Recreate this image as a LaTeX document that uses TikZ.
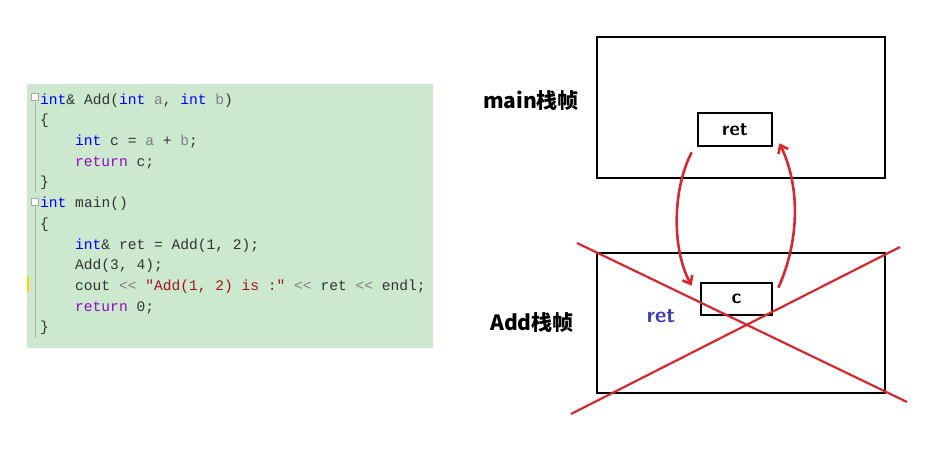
\documentclass[tikz,border=0pt]{standalone}
\usepackage{fontspec}
\usetikzlibrary{arrows.meta}
\newfontfamily\codefont{Liberation Mono}
\newfontfamily\cjk{Noto Sans CJK SC}
\definecolor{codebg}{RGB}{204,232,207}
\definecolor{kw}{RGB}{0,0,255}
\definecolor{rt}{RGB}{143,8,196}
\definecolor{arg}{RGB}{128,128,128}
\definecolor{str}{RGB}{163,21,21}
\definecolor{crossred}{RGB}{215,40,50}
\definecolor{retblue}{RGB}{60,60,190}
\newcommand{\kw}[1]{\textcolor{kw}{#1}}
\newcommand{\rt}[1]{\textcolor{rt}{#1}}
\newcommand{\ag}[1]{\textcolor{arg}{#1}}
\begin{document}
\begin{tikzpicture}[x = 1pt, y = -1pt,
		codeline/.style = {anchor = base west, inner sep = 0pt, font = \codefont\fontsize{14.6}{14.6}\selectfont, text = black!80},
		frame/.style = {draw, line width = 2.6pt},
		label/.style = {font = \cjk\bfseries\fontsize{21}{21}\selectfont},
		cross/.style = {crossred, line width = 2.2pt},
		link/.style = {crossred, line width = 2.6pt, -{Straight Barb[length = 7pt, width = 11pt]}}]
	\useasboundingbox (0, 0) rectangle (949, 448);
	% code panel
	\fill[codebg] (27, 84) rectangle (433, 348);
	\draw[gray!60] (35, 102) -- (35, 192) (35, 206) -- (35, 338);
	\draw[gray!70, fill = white] (31, 93) rectangle (38, 100);
	\draw[gray!70, fill = white] (31, 198) rectangle (38, 205);
	\fill[yellow!70!orange] (27, 276) rectangle (29, 292);
	\node[codeline] (l1) at (40, 104) {\kw{int}\& Add(\kw{int} \ag{a}, \kw{int} \ag{b})};
	\node[codeline] (l2) at (40, 124) {\{};
	\node[codeline] (l3) at (75, 145) {\kw{int} c = \ag{a} + \ag{b};};
	\node[codeline] (l4) at (75, 166) {\rt{return} c;};
	\node[codeline] (l5) at (40, 186) {\}};
	\node[codeline] (l6) at (40, 207) {\kw{int} main()};
	\node[codeline] (l7) at (40, 228) {\{};
	\node[codeline] (l8) at (75, 249) {\kw{int}\& ret = Add(1, 2);};
	\node[codeline] (l9) at (75, 269) {Add(3, 4);};
	\node[codeline] (l10) at (75, 290) {cout \ag{<{}<} \textcolor{str}{"Add(1, 2) is :"} \ag{<{}<} ret \ag{<{}<} endl;};
	\node[codeline] (l11) at (75, 311) {\rt{return} 0;};
	\node[codeline] (l12) at (40, 331) {\}};
	% stack frames
	\draw[frame] (597, 37) rectangle (885, 178);
	\draw[frame] (597, 253) rectangle (885, 393);
	\node[frame, minimum width = 74pt, minimum height = 33pt, inner sep = 0pt, font = \sffamily\bfseries\fontsize{20}{20}\selectfont] (ret) at (735, 129.5) {ret};
	\node[frame, minimum width = 71pt, minimum height = 32pt, inner sep = 0pt, font = \sffamily\bfseries\fontsize{20}{20}\selectfont] (c) at (736.5, 299) {c};
	\node[label] (mainframe) at (531, 101) {main栈帧};
	\node[label] (addframe) at (532, 323) {Add栈帧};
	\node[font = \sffamily\bfseries\fontsize{22}{22}\selectfont, text = retblue] (oldret) at (661, 316) {ret};
	% dead frame
	\draw[cross] (577, 243) -- (907, 402);
	\draw[cross] (571, 414) -- (900, 247);
	% reference goes down and back up
	\draw[link] (ret.south west) ++(-5, 5) .. controls (672, 190) and (672, 250) .. ([xshift = -8pt, yshift = -4pt]c.north west);
	\draw[link] ([xshift = 5pt, yshift = -6pt]c.north east) .. controls (800, 240) and (800, 185) .. ([xshift = 6pt, yshift = 4pt]ret.south east);
\end{tikzpicture}
\end{document}
